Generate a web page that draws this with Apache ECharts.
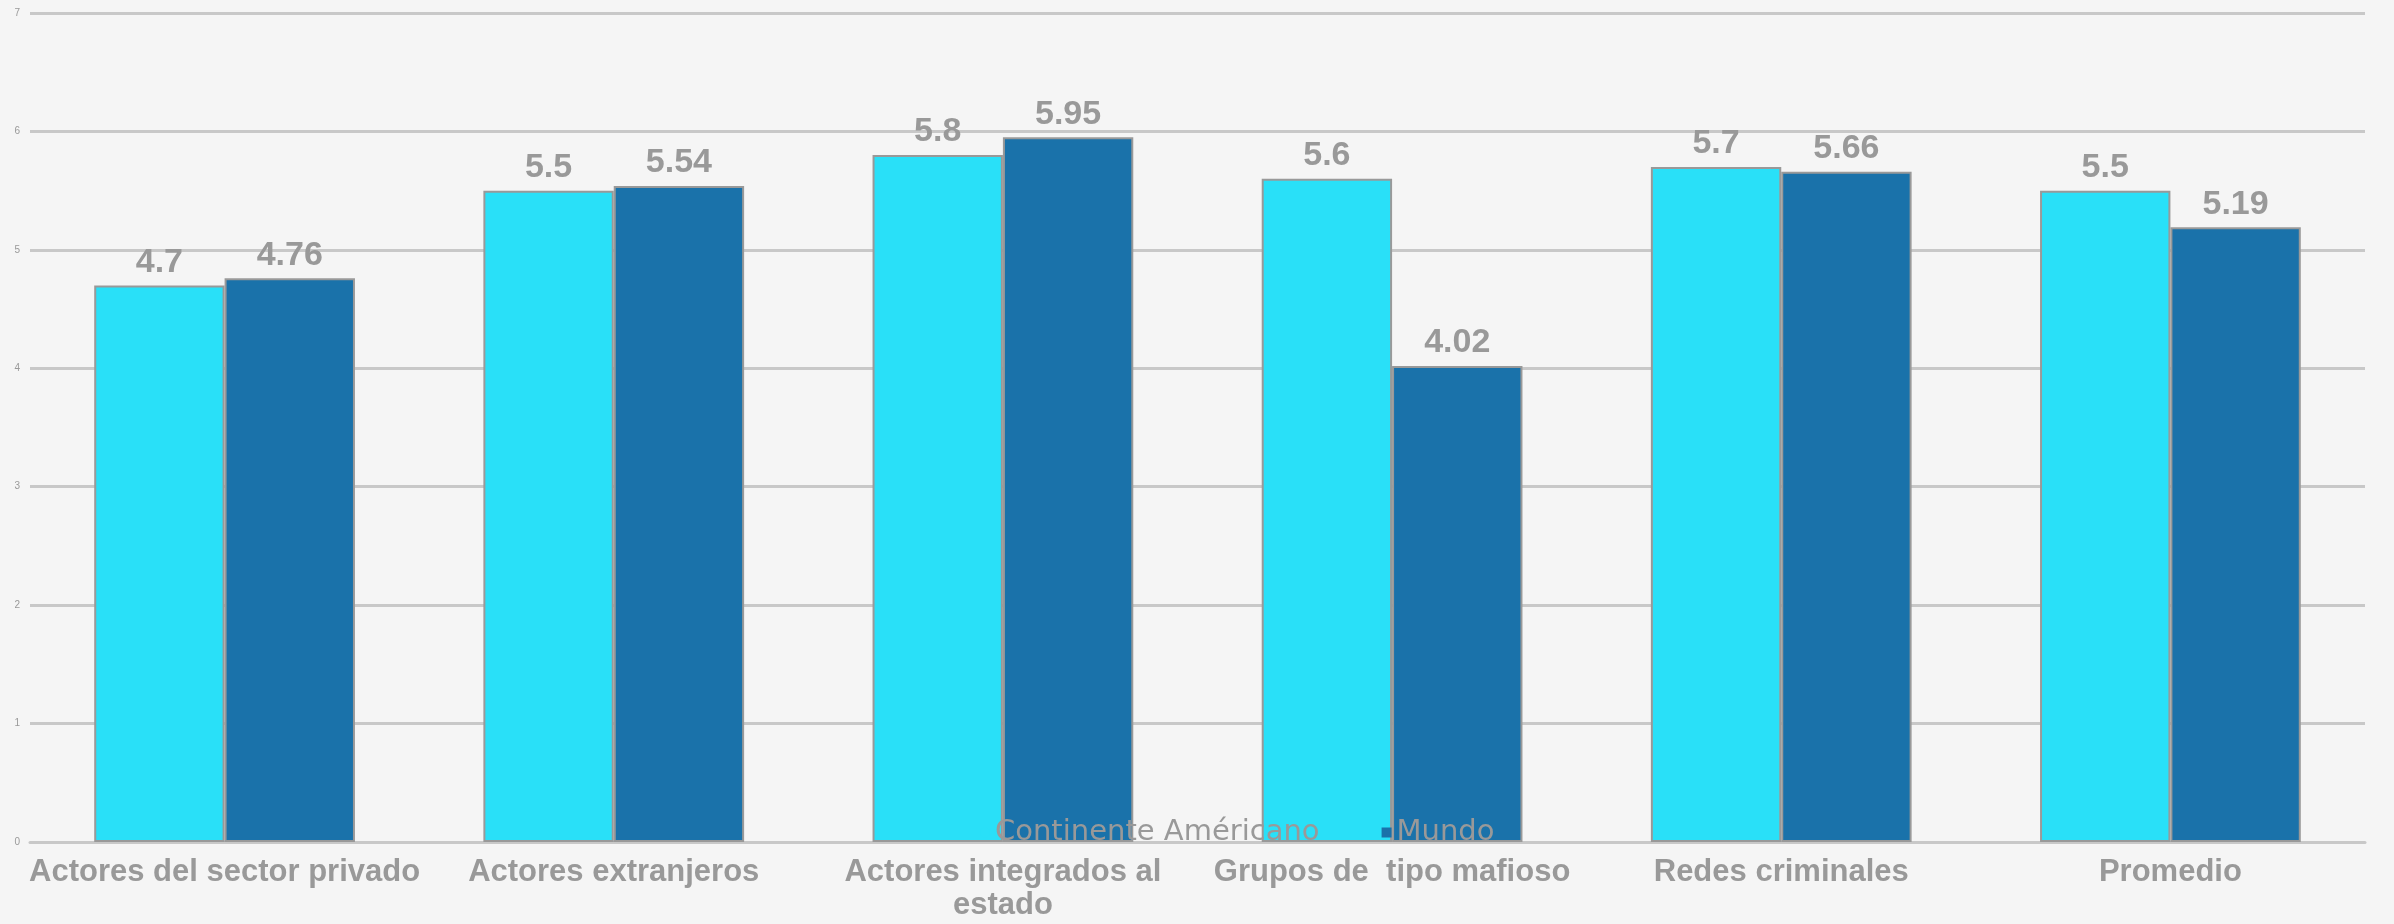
<!DOCTYPE html>
<html>
<head>
    <meta charset="UTF-8">
    <title>Actores</title>
    <script src="https://cdn.jsdelivr.net/npm/echarts@6/dist/echarts.min.js"></script>
    <style>
        html, body { margin: 0; padding: 0; background: #f5f5f5; }
        #main { width: 2394px; height: 924px; }
    </style>
</head>
<body>
    <div id="main"></div>
    <script type="text/javascript">
        // categorias y valores
        var categorias = ['Actores del sector privado', 'Actores extranjeros', 'Actores integrados al\nestado', 'Grupos de  tipo mafioso', 'Redes criminales', 'Promedio'];
        var continente = [4.7, 5.5, 5.8, 5.6, 5.7, 5.5];
        var mundo = [4.76, 5.54, 5.95, 4.02, 5.66, 5.19];
        var nombres = ['Continente Américano', 'Mundo'];

        var myChart = echarts.init(document.getElementById('main'));

        var etiqueta = {
            show: true,
            position: 'top',
            distance: 6,
            color: '#999',
            fontWeight: 'bold',
            fontSize: 34,
            fontFamily: 'Liberation Sans'
        };

        var option = {
            backgroundColor: '#f5f5f5',
            grid: {
                left: 30,
                right: 29,
                top: 13,
                bottom: 82
            },
            legend: {
                data: [
                    { name: nombres[0], icon: 'circle', itemStyle: { borderWidth: 0 } },
                    { name: nombres[1], icon: 'rect', itemStyle: { borderWidth: 0 } }
                ],
                left: 975,
                top: 813,
                itemWidth: 10,
                itemHeight: 10,
                itemGap: 62,
                textStyle: { color: '#999', fontSize: 29, fontFamily: 'DejaVu Sans' }
            },
            xAxis: {
                type: 'category',
                data: categorias,
                axisTick: { show: false },
                axisLine: { lineStyle: { color: '#c8c8c8', width: 3 } },
                axisLabel: {
                    color: '#999',
                    fontSize: 31,
                    fontWeight: 'bold',
                    fontFamily: 'Liberation Sans',
                    margin: 14,
                    lineHeight: 33,
                    interval: 0
                }
            },
            yAxis: {
                type: 'value',
                min: 0,
                max: 7,
                interval: 1,
                axisLine: { show: false },
                axisTick: { show: false },
                axisLabel: { color: '#999', fontSize: 10, margin: 10 },
                splitLine: { lineStyle: { color: '#c8c8c8', width: 3 } }
            },
            series: [
                {
                    name: nombres[0],
                    type: 'bar',
                    data: continente,
                    barGap: '0%',
                    barCategoryGap: '33%',
                    itemStyle: { color: '#29e0f8', borderColor: '#999', borderWidth: 2 },
                    label: etiqueta
                },
                {
                    name: nombres[1],
                    type: 'bar',
                    data: mundo,
                    itemStyle: { color: '#1a72aa', borderColor: '#999', borderWidth: 2 },
                    label: etiqueta
                }
            ]
        };

        myChart.setOption(option);
    </script>
</body>
</html>
